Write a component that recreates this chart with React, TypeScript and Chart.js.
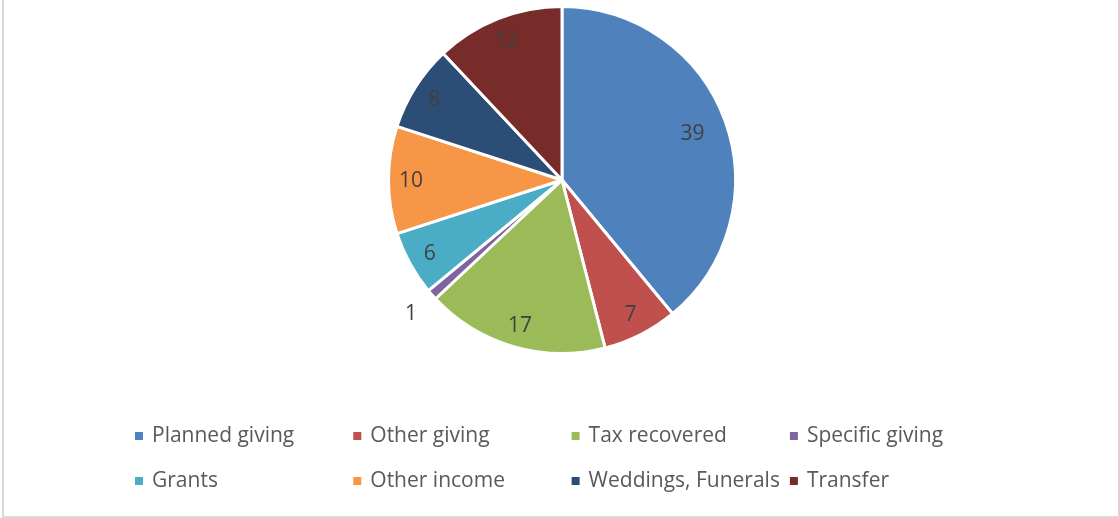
import React, { useEffect, useRef } from "react";
import { Chart, registerables } from "chart.js";

Chart.register(...registerables);

const categories = [
  "Planned giving",
  "Other giving",
  "Tax recovered",
  "Specific giving",
  "Grants",
  "Other income",
  "Weddings, Funerals",
  "Transfer",
];
const values = [39, 7, 17, 1, 6, 10, 8, 12];
const colors = [
  "#4F81BD",
  "#C0504D",
  "#9BBB59",
  "#8064A2",
  "#4BACC6",
  "#F79646",
  "#2C4D75",
  "#772C2A",
];

const FONT = "'Open Sans', Lato, sans-serif";

const labelPlugin = {
  id: "sliceLabels",
  afterDatasetsDraw(chart: any) {
    const ctx = chart.ctx;
    const meta = chart.getDatasetMeta(0);
    const total = values.reduce((a, b) => a + b, 0);
    ctx.save();
    ctx.font = `21px ${FONT}`;
    ctx.fillStyle = "#404040";
    ctx.textAlign = "center";
    ctx.textBaseline = "middle";
    meta.data.forEach((arc: any, i: number) => {
      const { x, y, startAngle, endAngle, outerRadius } = arc.getProps(
        ["x", "y", "startAngle", "endAngle", "outerRadius"],
        true
      );
      const mid = (startAngle + endAngle) / 2;
      const frac = values[i] / total;
      const f = frac < 0.03 ? 1.16 : frac > 0.3 ? 0.8 : 0.87;
      const lx = x + Math.cos(mid) * outerRadius * f;
      const ly = y + Math.sin(mid) * outerRadius * f;
      ctx.fillText(String(values[i]), lx, ly + 1);
    });
    ctx.restore();
  },
};

const legendPlugin = {
  id: "gridLegend",
  afterDraw(chart: any) {
    const ctx = chart.ctx;
    ctx.save();
    ctx.font = `21px ${FONT}`;
    ctx.textBaseline = "middle";
    ctx.textAlign = "left";
    const labels = chart.data.labels as string[];
    const bg = chart.data.datasets[0].backgroundColor as string[];
    labels.forEach((lab, i) => {
      const col = i % 4;
      const row = Math.floor(i / 4);
      const bx = 135 + col * 218.3;
      const cy = 436 + row * 45;
      ctx.fillStyle = bg[i];
      ctx.fillRect(bx, cy - 4, 8, 8);
      ctx.fillStyle = "#595959";
      ctx.fillText(lab, bx + 17, cy);
    });
    ctx.restore();
  },
};

export default function App() {
  const ref = useRef<HTMLCanvasElement | null>(null);
  useEffect(() => {
    document.body.style.margin = "0";
    if (!ref.current) return;
    const chart = new Chart(ref.current, {
      type: "pie",
      data: {
        labels: categories,
        datasets: [
          {
            data: values,
            backgroundColor: colors,
            borderColor: "#ffffff",
            borderWidth: 3,
            hoverOffset: 0,
          },
        ],
      },
      options: {
        animation: false,
        responsive: false,
        events: [],
        layout: { padding: { top: 5, bottom: 163, left: 5, right: 0 } },
        plugins: {
          legend: { display: false },
          tooltip: { enabled: false },
        },
      },
      plugins: [labelPlugin, legendPlugin],
    });
    return () => chart.destroy();
  }, []);
  return (
    <div style={{ position: "relative", width: 1119, height: 518, background: "#fff" }}>
      <canvas ref={ref} width={1119} height={518} style={{ position: "absolute", left: 0, top: 0 }} />
      <div
        style={{
          position: "absolute",
          left: 2,
          top: -2,
          width: 1114,
          height: 516,
          border: "2px solid #d9d9d9",
          pointerEvents: "none",
        }}
      />
    </div>
  );
}
